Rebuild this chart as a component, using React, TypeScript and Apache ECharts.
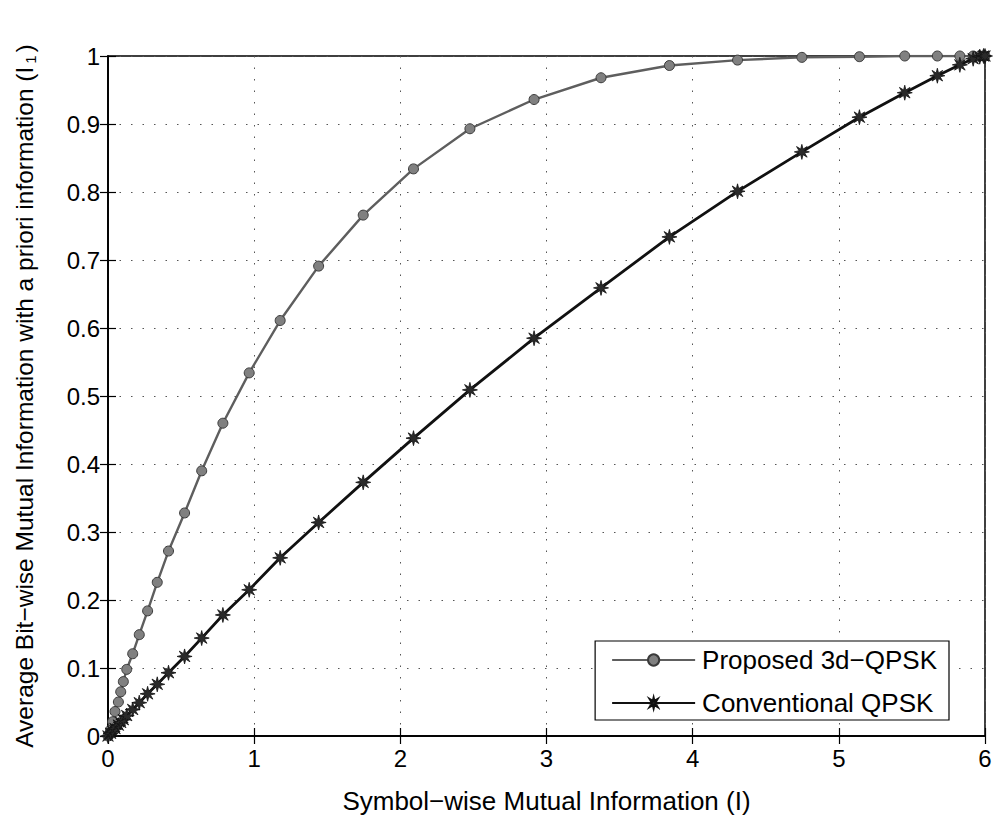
import React, { useEffect, useRef } from "react";
import * as echarts from "echarts";

// Shared x grid (symbol-wise mutual information I)
const xValues = [
  0, 0.018, 0.032, 0.048, 0.071, 0.087, 0.105, 0.128, 0.169, 0.214, 0.271, 0.337,
  0.414, 0.524, 0.641, 0.786, 0.966, 1.178, 1.441, 1.746, 2.09, 2.476, 2.915,
  3.373, 3.841, 4.307, 4.747, 5.141, 5.451, 5.674, 5.828, 5.919, 5.964, 5.99, 6,
];

const proposedY = [
  0, 0.009, 0.021, 0.036, 0.05, 0.065, 0.08, 0.098, 0.121, 0.149, 0.184, 0.226,
  0.272, 0.328, 0.39, 0.46, 0.534, 0.611, 0.691, 0.766, 0.834, 0.893, 0.936,
  0.968, 0.986, 0.994, 0.998, 0.999, 1, 1, 1, 1, 1, 1, 1,
];

const conventionalY = [
  0, 0.004, 0.007, 0.011, 0.016, 0.02, 0.024, 0.03, 0.039, 0.049, 0.062, 0.076,
  0.093, 0.117, 0.144, 0.178, 0.215, 0.262, 0.314, 0.373, 0.438, 0.509, 0.585,
  0.659, 0.734, 0.801, 0.859, 0.91, 0.946, 0.971, 0.987, 0.996, 0.999, 1, 1,
];

const xTicks = [0, 1, 2, 3, 4, 5, 6];
const yTicks = [0, 0.1, 0.2, 0.3, 0.4, 0.5, 0.6, 0.7, 0.8, 0.9, 1];

const seriesNames = ["Proposed 3d\u2212QPSK", "Conventional QPSK"];

const STAR =
  "path://M0,-10 L1.53,-3.7 L7.07,-7.07 L3.7,-1.53 L10,0 L3.7,1.53 L7.07,7.07 L1.53,3.7 L0,10 L-1.53,3.7 L-7.07,7.07 L-3.7,1.53 L-10,0 L-3.7,-1.53 L-7.07,-7.07 L-1.53,-3.7 Z";

const FONT = "Liberation Sans";

export default function App() {
  const ref = useRef<HTMLDivElement>(null);

  useEffect(() => {
    if (!ref.current) return;
    const chart = echarts.init(ref.current, undefined, { renderer: "svg" });

    const gridLine = {
      show: true,
      lineStyle: { color: "#555", width: 1, type: [1.5, 10] as any },
    };
    const fmt1 = (v: number) => String(+(+v).toFixed(1));

    const option: any = {
      animation: false,
      backgroundColor: "#fff",
      grid: {
        left: 108,
        right: 14,
        top: 56,
        bottom: 71,
        show: true,
        borderColor: "#000",
        borderWidth: 1.5,
        backgroundColor: "transparent",
      },
      legend: {
        orient: "vertical",
        right: 50,
        top: 641,
        width: 356,
        padding: [6, 12, 4, 16],
        itemGap: 17,
        itemWidth: 83,
        itemHeight: 14,
        backgroundColor: "#fff",
        borderColor: "#000",
        borderWidth: 1.2,
        textStyle: { fontFamily: FONT, fontSize: 26, color: "#000", padding: [0, 0, 0, 2] },
        data: seriesNames,
      },
      xAxis: [
        {
          type: "value",
          min: 0,
          max: 6,
          interval: 1,
          name: "Symbol\u2212wise Mutual Information (I)",
          nameLocation: "middle",
          nameGap: 52,
          nameTextStyle: { fontFamily: FONT, fontSize: 26, color: "#000" },
          axisLine: { show: true, lineStyle: { color: "#000", width: 1.5 } },
          axisTick: { show: true, inside: true, length: 8, lineStyle: { color: "#000", width: 1.2 } },
          axisLabel: { fontFamily: FONT, fontSize: 24, color: "#000", margin: 10, formatter: (v: number) => String(v) },
          splitLine: gridLine,
          data: xTicks,
        },
        {
          type: "value",
          position: "top",
          min: 0,
          max: 6,
          interval: 1,
          axisLine: { show: true, lineStyle: { color: "#000", width: 1.5 } },
          axisTick: { show: true, inside: true, length: 8, lineStyle: { color: "#000", width: 1.2 } },
          axisLabel: { show: false },
          splitLine: { show: false },
        },
      ],
      yAxis: [
        {
          type: "value",
          min: 0,
          max: 1,
          interval: 0.1,
          name: "{a|Average Bit\u2212wise Mutual Information with a priori information (I}{s|1}{a|)}",
          nameLocation: "middle",
          nameGap: 70,
          nameRotate: 90,
          nameTextStyle: {
            fontFamily: FONT,
            fontSize: 24.5,
            color: "#000",
            rich: {
              a: { fontFamily: FONT, fontSize: 24.5, color: "#000" },
              s: { fontFamily: FONT, fontSize: 15, color: "#000", padding: [12, 3, 0, 3] },
            },
          },
          axisLine: { show: true, lineStyle: { color: "#000", width: 1.5 } },
          axisTick: { show: true, inside: true, length: 8, lineStyle: { color: "#000", width: 1.2 } },
          axisLabel: { fontFamily: FONT, fontSize: 24, color: "#000", margin: 8, formatter: fmt1 },
          splitLine: gridLine,
          data: yTicks,
        },
        {
          type: "value",
          position: "right",
          min: 0,
          max: 1,
          interval: 0.1,
          axisLine: { show: true, lineStyle: { color: "#000", width: 1.5 } },
          axisTick: { show: true, inside: true, length: 8, lineStyle: { color: "#000", width: 1.2 } },
          axisLabel: { show: false },
          splitLine: { show: false },
        },
      ],
      series: [
        {
          name: seriesNames[0],
          type: "line",
          xAxisIndex: 0,
          yAxisIndex: 0,
          data: xValues.map((x, i) => [x, proposedY[i]]),
          symbol: "circle",
          symbolSize: 10,
          showAllSymbol: true,
          lineStyle: { color: "#5e5e5e", width: 2.4 },
          itemStyle: { color: "#808080", borderColor: "#3a3a3a", borderWidth: 1 },
          z: 3,
        },
        {
          name: seriesNames[1],
          type: "line",
          xAxisIndex: 0,
          yAxisIndex: 0,
          data: xValues.map((x, i) => [x, conventionalY[i]]),
          symbol: STAR,
          symbolSize: 15,
          showAllSymbol: true,
          lineStyle: { color: "#111", width: 2.8 },
          itemStyle: { color: "#2a2a2a", borderColor: "#111", borderWidth: 0.8 },
          z: 4,
        },
      ],
    };

    chart.setOption(option);
    return () => chart.dispose();
  }, []);

  return (
    <div
      ref={ref}
      style={{ width: 999, height: 819, position: "absolute", left: 0, top: 0, background: "#fff" }}
    />
  );
}
